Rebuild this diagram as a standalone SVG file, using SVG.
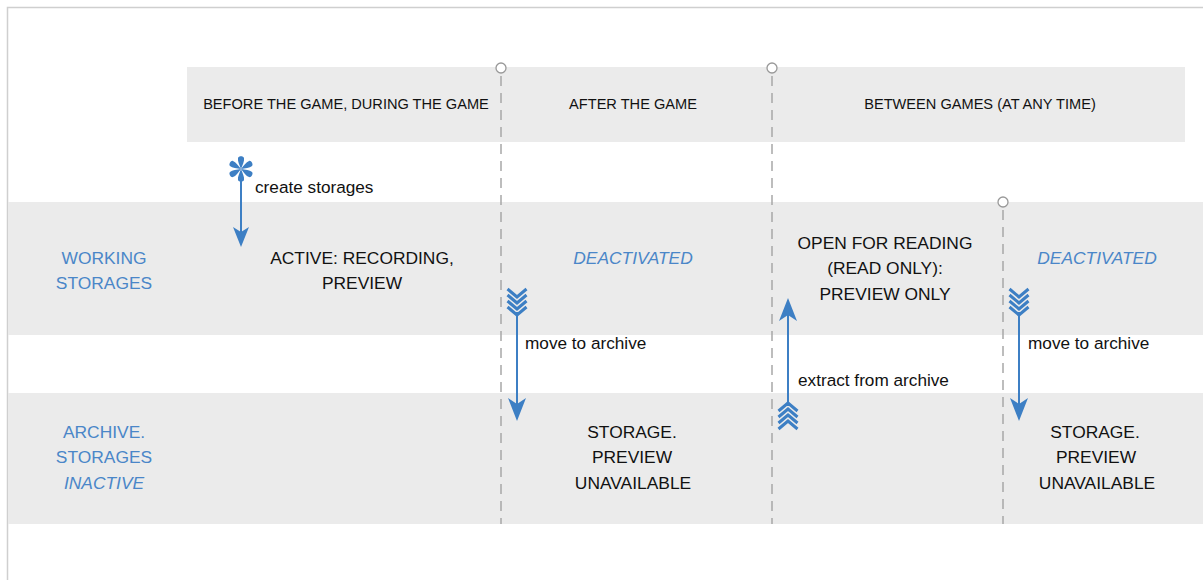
<svg xmlns="http://www.w3.org/2000/svg" width="1203" height="580" viewBox="0 0 1203 580">
<defs>
<style>
.band{fill:#ebebeb}
.hdr{font-family:"Liberation Sans",Arial,sans-serif;font-size:14.6px;fill:#111;text-anchor:middle}
.big{font-family:"Liberation Sans",Arial,sans-serif;font-size:17.4px;fill:#111;text-anchor:middle}
.blue{fill:#4a86c8}
.it{font-style:italic}
.lbl{font-family:"Liberation Sans",Arial,sans-serif;font-size:17.2px;fill:#111}
.dash{stroke:#a8a8a8;stroke-width:1.5;stroke-dasharray:10 7;fill:none}
.dot{fill:#fff;stroke:#999;stroke-width:1.3}
.ln{stroke:#3d7fc4;stroke-width:2;fill:none}
.head{fill:#3d7fc4}
.chev{stroke:#3d7fc4;stroke-width:3;fill:none}
</style>
</defs>
<rect width="1203" height="580" fill="#fff"/>
<path d="M7.5 580 V7.5 H1203" fill="none" stroke="#cfcfcf" stroke-width="1.5"/>
<g id="bands">
<rect class="band" x="187" y="67" width="998" height="75"/>
<rect class="band" x="8" y="202" width="1195" height="133"/>
<rect class="band" x="8" y="393" width="1195" height="131"/>
</g>
<g id="dividers">
<line class="dash" x1="501" y1="76" x2="501" y2="524"/>
<line class="dash" x1="772" y1="76" x2="772" y2="524"/>
<line class="dash" x1="1003" y1="210" x2="1003" y2="524"/>
<circle class="dot" cx="501" cy="68" r="5"/>
<circle class="dot" cx="772" cy="68" r="5"/>
<circle class="dot" cx="1003" cy="202" r="5"/>
</g>
<g id="header">
<text class="hdr" x="346" y="108.5">BEFORE THE GAME, DURING THE GAME</text>
<text class="hdr" x="633" y="108.5">AFTER THE GAME</text>
<text class="hdr" x="980" y="108.5">BETWEEN GAMES (AT ANY TIME)</text>
</g>
<g id="row-working">
<text class="big blue" x="104" y="264">WORKING</text>
<text class="big blue" x="104" y="289">STORAGES</text>
</g>
<g id="row-archive">
<text class="big blue" x="104" y="438">ARCHIVE.</text>
<text class="big blue" x="104" y="463">STORAGES</text>
<text class="big blue it" x="104" y="489">INACTIVE</text>
</g>
<g id="node-active">
<text class="big" x="362" y="264">ACTIVE: RECORDING,</text>
<text class="big" x="362" y="289">PREVIEW</text>
</g>
<g id="node-deactivated-1">
<text class="big blue it" x="633" y="264">DEACTIVATED</text>
</g>
<g id="node-open">
<text class="big" x="885" y="249">OPEN FOR READING</text>
<text class="big" x="885" y="274">(READ ONLY):</text>
<text class="big" x="885" y="300">PREVIEW ONLY</text>
</g>
<g id="node-deactivated-2">
<text class="big blue it" x="1097" y="264">DEACTIVATED</text>
</g>
<g id="node-storage-1">
<text class="big" x="632" y="438">STORAGE.</text>
<text class="big" x="632" y="463">PREVIEW</text>
<text class="big" x="633" y="489">UNAVAILABLE</text>
</g>
<g id="node-storage-2">
<text class="big" x="1095" y="438">STORAGE.</text>
<text class="big" x="1096" y="463">PREVIEW</text>
<text class="big" x="1097" y="489">UNAVAILABLE</text>
</g>
<g id="connectors">
<g id="create">
<g class="head" transform="translate(241,169)">
<path id="petal" d="M0 0 C-1.5 -4 -3.6 -8 -3 -11 C-2.4 -13.2 2.4 -13.2 3 -11 C3.6 -8 1.5 -4 0 0Z"/>
<use href="#petal" transform="rotate(60)"/>
<use href="#petal" transform="rotate(120)"/>
<use href="#petal" transform="rotate(180)"/>
<use href="#petal" transform="rotate(240)"/>
<use href="#petal" transform="rotate(300)"/>
</g>
<line class="ln" x1="241" y1="172" x2="241" y2="238"/>
<polygon class="head" points="241,247 233,227 241,232 249,227"/>
<text class="lbl" x="255" y="193">create storages</text>
</g>
<g id="move1">
<polyline class="chev" points="507.5,289 517,297 526.5,289"/>
<polyline class="chev" points="507.5,295 517,303 526.5,295"/>
<polyline class="chev" points="507.5,301 517,309 526.5,301"/>
<polyline class="chev" points="507.5,307 517,315 526.5,307"/>
<line class="ln" x1="517" y1="312" x2="517" y2="410"/>
<polygon class="head" points="517,421 508,398 517,404 526,398"/>
<text class="lbl" x="525" y="349">move to archive</text>
</g>
<g id="extract">
<polyline class="chev" points="778.5,411 788,403 797.5,411"/>
<polyline class="chev" points="778.5,417 788,409 797.5,417"/>
<polyline class="chev" points="778.5,423 788,415 797.5,423"/>
<polyline class="chev" points="778.5,429 788,421 797.5,429"/>
<line class="ln" x1="788" y1="406" x2="788" y2="310"/>
<polygon class="head" points="788,298 779,321 788,315 797,321"/>
<text class="lbl" x="798" y="386">extract from archive</text>
</g>
<g id="move2">
<polyline class="chev" points="1009.5,289 1019,297 1028.5,289"/>
<polyline class="chev" points="1009.5,295 1019,303 1028.5,295"/>
<polyline class="chev" points="1009.5,301 1019,309 1028.5,301"/>
<polyline class="chev" points="1009.5,307 1019,315 1028.5,307"/>
<line class="ln" x1="1019" y1="312" x2="1019" y2="410"/>
<polygon class="head" points="1019,421 1010,398 1019,404 1028,398"/>
<text class="lbl" x="1028" y="349">move to archive</text>
</g>
</g>
</svg>
